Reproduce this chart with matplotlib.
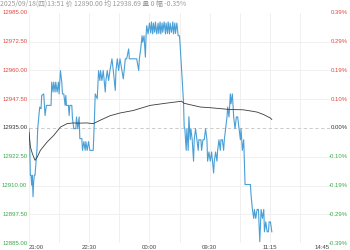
import matplotlib
matplotlib.use("Agg")
import matplotlib.pyplot as plt

# ---- data ----
base_price = 12935.0
title_text = "2025/09/18(四)13:51 价 12890.00 均 12938.69 量 0 幅 -0.35%"
y_levels = [12985.0, 12972.5, 12960.0, 12947.5, 12935.0, 12922.5, 12910.0, 12897.5, 12885.0]
x_tick_pos = [0, 90, 180, 270, 360, 450]
x_tick_labels = ["21:00", "22:30", "00:00", "09:30", "11:15", "14:45"]

price_t = [0, 1, 2, 3, 4, 5, 6, 7, 8, 9, 12, 13, 16, 18, 19, 22, 23, 24, 26, 33,
           34, 36, 37, 39, 40, 42, 44, 45, 47, 49, 50, 52, 54, 55, 56, 59, 60, 61, 64, 65,
           67, 70, 71, 73, 75, 76, 79, 80, 82, 84, 85, 87, 89, 91, 96, 98, 99, 102, 104, 106,
           107, 109, 111, 114, 115, 117, 119, 121, 124, 126, 129, 130, 132, 134, 136, 139, 141, 144, 146, 149,
           150, 154, 161, 164, 165, 167, 169, 170, 172, 174, 175, 176, 178,
           180, 182, 183, 185, 186, 188, 189, 191, 193, 194, 196, 197, 199, 200, 202, 204, 205, 207, 208, 210,
           211, 213, 215, 216, 218, 219, 221,
           223, 225, 226, 229, 231, 232, 233, 235, 236, 238, 239, 241, 242, 244, 246, 247, 249, 251, 253, 254,
           257, 258, 260, 262, 264, 266, 267, 269, 271, 273, 276, 277, 279, 281, 282, 284, 286, 287, 289, 291,
           292, 294, 296, 297, 299, 301, 302, 304, 306, 308, 310, 312, 314, 316, 317, 319, 321, 322, 323, 326,
           331, 332, 334, 336, 337, 339, 341, 343, 345, 347, 349, 351, 352, 354, 356, 358, 359, 361, 363]
price_v = [12934.7, 12929.1, 12914.5, 12914.5, 12910.2, 12914.5, 12905.2, 12911.8, 12914.5, 12914.5,
           12926.0, 12934.7, 12944.1, 12943.3, 12949.1, 12949.8, 12944.8, 12940.4, 12944.8, 12944.8,
           12954.9, 12950.6, 12954.9, 12950.6, 12954.9, 12950.6, 12954.9, 12949.8, 12959.9, 12954.9,
           12949.8, 12949.8, 12944.8, 12949.1, 12944.8, 12944.8, 12940.4, 12944.8, 12944.8, 12939.0,
           12934.7, 12934.7, 12939.8, 12934.7, 12939.8, 12930.4, 12930.4, 12925.3, 12929.1, 12925.3,
           12929.1, 12925.3, 12929.1, 12925.3, 12925.3, 12940.4, 12949.8, 12947.7, 12959.9, 12955.6,
           12959.9, 12955.6, 12959.9, 12950.6, 12955.6, 12959.9, 12955.6, 12959.9, 12965.0, 12959.9,
           12951.3, 12959.9, 12965.0, 12959.9, 12965.0, 12959.9, 12956.3, 12965.0, 12965.0, 12969.3,
           12965.0, 12965.0, 12965.0, 12959.9, 12965.0, 12969.3, 12975.0, 12972.2, 12975.0, 12965.7,
           12975.0, 12979.4, 12975.8,
           12980.5, 12976.2, 12981.0, 12975.8, 12980.5, 12976.5, 12981.0, 12975.8, 12980.5, 12976.0,
           12981.0, 12975.8, 12980.5, 12976.5, 12981.0, 12975.8, 12980.5, 12976.0, 12981.0, 12975.8,
           12980.5, 12976.5, 12981.0, 12975.8, 12980.5, 12976.0, 12980.5,
           12975.0, 12975.0, 12970.7, 12956.3, 12946.2, 12935.4, 12934.7, 12925.3, 12934.7, 12925.3,
           12939.9, 12929.9, 12934.7, 12929.9, 12920.6, 12929.9, 12934.7, 12929.9, 12925.3, 12929.9,
           12929.9, 12925.3, 12929.9, 12929.9, 12934.7, 12929.9, 12920.6, 12924.6, 12920.6, 12924.6,
           12915.5, 12920.6, 12924.6, 12920.6, 12925.3, 12929.9, 12925.3, 12929.9, 12929.9, 12925.3,
           12929.9, 12934.7, 12939.8, 12944.1, 12939.8, 12949.8, 12945.5, 12949.8, 12939.8, 12934.7,
           12939.8, 12939.8, 12934.7, 12929.9, 12934.7, 12925.3, 12929.9, 12920.6, 12910.5, 12910.5,
           12910.5, 12905.9, 12899.7, 12895.8, 12899.7, 12895.8, 12899.7, 12899.7, 12885.7, 12899.7,
           12895.8, 12899.7, 12890.0, 12894.3, 12890.0, 12890.0, 12894.3, 12894.3, 12890.0]

avg_t = [0, 2, 5, 9, 12, 17, 27, 37, 47, 57, 66, 76, 86, 96, 106, 121, 136, 156, 181, 206,
         228, 232, 241, 256, 271, 301, 320, 331, 341, 351, 361, 363]
avg_v = [12933.0, 12926.9, 12923.9, 12921.0, 12922.2, 12925.3, 12928.9, 12931.8, 12935.4, 12936.9,
         12937.2, 12937.1, 12937.2, 12936.9, 12938.3, 12940.3, 12941.5, 12942.6, 12944.8, 12945.8,
         12946.6, 12945.7, 12945.1, 12944.1, 12943.8, 12943.0, 12942.9, 12942.4, 12941.9, 12940.8,
         12939.3, 12938.7]

# ---- styling ----
RED = "#e0483e"
GREEN = "#3aa84a"
NEUTRAL = "#333333"
FONT = "Liberation Sans"
FS = 4.3

W, H = 350, 250
fig = plt.figure(figsize=(W / 100, H / 100), dpi=100)
ax_l, ax_r = 29 / W, 330 / W
ax_b, ax_t = (H - 243.3) / H, (H - 12.7) / H
ax = fig.add_axes([ax_l, ax_b, ax_r - ax_l, ax_t - ax_b])
ax.set_xlim(0, 450)
ax.set_ylim(y_levels[-1], y_levels[0])
for s in ax.spines.values():
    s.set_visible(False)
ax.set_xticks([])
ax.set_yticks([])

# grid
for xv in range(0, 451, 45):
    ax.axvline(xv, color="#eeeeee", lw=0.6, zorder=0)
for lv in y_levels[1:-1]:
    if lv == base_price:
        ax.axhline(lv, color="#c4c4c4", lw=0.6, ls=(0, (4, 3)), zorder=0)
    else:
        ax.axhline(lv, color="#eeeeee", lw=0.6, zorder=0)

ax.plot(price_t, price_v, color="#4a9fd6", lw=0.8, zorder=3)
ax.plot(avg_t, avg_v, color="#3a3a3a", lw=0.6, zorder=4)

# y labels (left prices, right percentages)
for lv in y_levels:
    col = RED if lv > base_price else (GREEN if lv < base_price else NEUTRAL)
    pct = (lv / base_price - 1) * 100
    ax.text(-0.006, lv, f"{lv:.2f}", transform=ax.get_yaxis_transform(),
            ha="right", va="center", fontsize=FS, color=col, family=FONT)
    ax.text(1.0 + 17.5 / (ax_r - ax_l) / W, lv, f"{pct:.2f}%", transform=ax.get_yaxis_transform(),
            ha="right", va="center", fontsize=FS, color=col, family=FONT)

# x labels
for i, (xp, lab) in enumerate(zip(x_tick_pos, x_tick_labels)):
    ha = "left" if i == 0 else ("right" if i == len(x_tick_pos) - 1 else "center")
    ax.text(xp, -0.0185, lab, transform=ax.get_xaxis_transform(), ha=ha, va="center",
            fontsize=FS, color="#444444", family=FONT)

fig.text(0.0, 1.0 - 3.2 / H, title_text, ha="left", va="center", fontsize=4.9,
         color="#999999", family=["Noto Sans CJK SC", "DejaVu Sans"])

fig.savefig("out.png", dpi=100, facecolor="white")
